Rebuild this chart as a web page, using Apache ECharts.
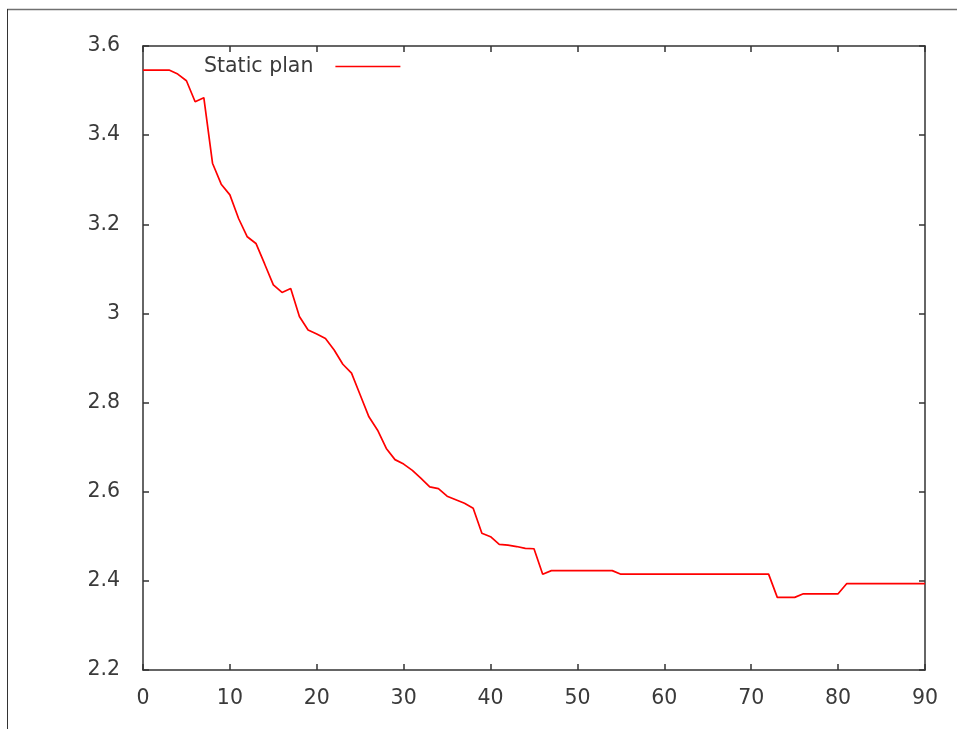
<!DOCTYPE html>
<html>
<head>
<meta charset="utf-8">
<script src="https://cdn.jsdelivr.net/npm/echarts@6/dist/echarts.min.js"></script>
<style>
html,body{margin:0;padding:0;background:#fff;}
#chart{width:957px;height:729px;}
</style>
</head>
<body>
<div id="chart"></div>
<script>
// ---- data ----
const seriesName = 'Static plan';
const iterations = [0,1,2,3,4,5,6,7,8,9,10,11,12,13,14,15,16,17,18,19,20,21,22,23,24,25,26,27,28,29,30,
  31,32,33,34,35,36,37,38,39,40,41,42,43,44,45,46,47,48,49,50,51,52,53,54,55,56,57,58,59,60,
  61,62,63,64,65,66,67,68,69,70,71,72,73,74,75,76,77,78,79,80,81,82,83,84,85,86,87,88,89,90];
const planValues = [3.546,3.546,3.546,3.546,3.537,3.522,3.475,3.484,3.337,3.29,3.266,3.213,3.172,3.157,3.111,3.064,3.047,3.056,2.993,2.963,2.954,
  2.944,2.918,2.886,2.866,2.817,2.768,2.738,2.697,2.672,2.662,
  2.648,2.630,2.611,2.607,2.590,2.582,2.574,2.563,2.507,2.499,
  2.482,2.480,2.477,2.473,2.472,2.415,2.423,2.423,2.423,2.423,
  2.423,2.423,2.423,2.423,2.415,2.415,2.415,2.415,2.415,2.415,
  2.415,2.415,2.415,2.415,2.415,2.415,2.415,2.415,2.415,2.415,
  2.415,2.415,2.363,2.363,2.363,2.371,2.371,2.371,2.371,2.371,
  2.394,2.394,2.394,2.394,2.394,2.394,2.394,2.394,2.394,2.394];
const xTicks = {min:0, max:90, interval:10};
const yTicks = {min:2.2, max:3.6, interval:0.2};

// ---- chart ----
const chart = echarts.init(document.getElementById('chart'), null, {renderer:'canvas'});
const font = 'DejaVu Sans';
const axisColor = '#333333';
const textColor = '#3a3a3a';
const pairs = iterations.map((x,i)=>[x, planValues[i]]);

function xAxisCfg(pos, labels){
  return {
    type:'value', position:pos, min:xTicks.min, max:xTicks.max, interval:xTicks.interval,
    axisLine:{show:true, onZero:false, lineStyle:{color:axisColor, width:1.5}},
    axisTick:{show:true, inside:true, length:6, lineStyle:{color:axisColor, width:1.5}},
    splitLine:{show:false},
    axisLabel:{show:labels, margin:18, color:textColor, fontFamily:font, fontSize:20.5}
  };
}
function yAxisCfg(pos, labels){
  return {
    type:'value', position:pos, min:yTicks.min, max:yTicks.max, interval:yTicks.interval,
    axisLine:{show:true, onZero:false, lineStyle:{color:axisColor, width:1.5}},
    axisTick:{show:true, inside:true, length:6, lineStyle:{color:axisColor, width:1.5}},
    splitLine:{show:false},
    axisLabel:{show:labels, margin:23, color:textColor, fontFamily:font, fontSize:20.5}
  };
}

chart.setOption({
  animation:false,
  backgroundColor:'#ffffff',
  grid:{left:143, right:32, top:46, bottom:59, containLabel:false},
  legend:{
    show:true, left:199, top:51, align:'right', itemWidth:65, itemHeight:1.5,
    icon:'rect', itemGap:0,
    data:[seriesName],
    textStyle:{color:textColor, fontFamily:font, fontSize:20.5, padding:[0,17,0,0]}
  },
  xAxis:[xAxisCfg('bottom', true), xAxisCfg('top', false)],
  yAxis:[yAxisCfg('left', true), yAxisCfg('right', false)],
  graphic:[
    {type:'line', shape:{x1:7, y1:9.5, x2:957, y2:9.5}, style:{stroke:'#707070', lineWidth:1.5}},
    {type:'line', shape:{x1:7.5, y1:9, x2:7.5, y2:729}, style:{stroke:'#333333', lineWidth:1}}
  ],
  series:[{
    name:seriesName, type:'line', xAxisIndex:0, yAxisIndex:0,
    data:pairs, symbol:'none', smooth:false,
    lineStyle:{color:'#ff0000', width:1.7},
    itemStyle:{color:'#ff0000'}
  }]
});
</script>
</body>
</html>
